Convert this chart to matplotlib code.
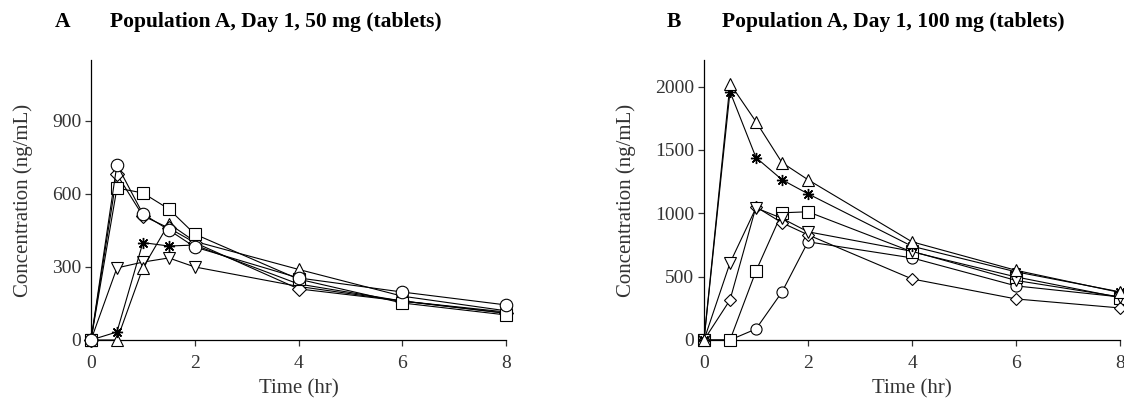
import matplotlib.pyplot as plt
import numpy as np

plt.rcParams['font.family'] = ['Liberation Serif', 'DejaVu Serif']

time = [0, 0.5, 1, 1.5, 2, 4, 6, 8]

# panel A, 50 mg
a_circle = [0, 720, 518, 452, 382, 255, 197, 144]
a_diamond = [0, 680, 510, 460, 400, 210, 160, 110]
a_square = [0, 624, 604, 538, 435, 250, 152, 103]
a_star = [0, 33, 400, 386, 390, 230, 160, 115]
a_tri_up = [0, 0, 296, 478, 405, 290, 180, 120]
a_tri_down = [0, 296, 320, 337, 300, 220, 160, 110]

# panel B, 100 mg
b_tri_up = [0, 2024, 1723, 1400, 1265, 775, 550, 375]
b_star = [0, 1960, 1440, 1265, 1154, 740, 538, 380]
b_tri_down = [0, 608, 1043, 960, 854, 700, 470, 340]
b_diamond = [0, 316, 1051, 925, 830, 482, 324, 253]
b_square = [0, 0, 545, 1004, 1012, 696, 498, 335]
b_circle = [0, 0, 87, 379, 775, 648, 427, 340]

star = (8, 2, 0)

fig = plt.figure(figsize=(11.24, 4), dpi=100)
axA = fig.add_axes([91 / 1124, 60 / 400, 415 / 1124, 280 / 400])
axB = fig.add_axes([704 / 1124, 60 / 400, 416 / 1124, 280 / 400])


def draw(ax, series):
    for y, m, ms in series:
        if m == star:
            ax.plot(time, y, color='black', lw=0.8, marker=m, ms=ms,
                    mec='black', mew=1.0, clip_on=False, zorder=3)
        else:
            ax.plot(time, y, color='black', lw=0.8, marker=m, ms=ms,
                    mfc='white', mec='black', mew=0.8, clip_on=False, zorder=3)


draw(axA, [(a_tri_down, 'v', 9), (a_tri_up, '^', 9), (a_star, star, 8),
           (a_diamond, 'D', 7), (a_square, 's', 9), (a_circle, 'o', 9)])
draw(axB, [(b_circle, 'o', 8), (b_square, 's', 9), (b_diamond, 'D', 6),
           (b_tri_down, 'v', 9), (b_star, star, 8), (b_tri_up, '^', 9)])

for ax, yt, ytop in [(axA, [0, 300, 600, 900], 1150), (axB, [0, 500, 1000, 1500, 2000], 2210)]:
    ax.set_xlim(0, 8)
    ax.set_ylim(0, ytop)
    ax.set_xticks([0, 2, 4, 6, 8])
    ax.set_yticks(yt)
    ax.spines['top'].set_visible(False)
    ax.spines['right'].set_visible(False)
    ax.spines['left'].set_linewidth(0.9)
    ax.spines['bottom'].set_linewidth(0.9)
    ax.tick_params(direction='out', length=4, width=0.9, labelsize=14,
                   colors='#333333', pad=3)
    ax.tick_params(axis='x', pad=7)
    ax.set_xlabel('Time (hr)', fontsize=15, color='#333333', labelpad=5)
    ax.set_ylabel('Concentration (ng/mL)', fontsize=15, color='#333333', labelpad=14)

fig.text(55 / 1124, 1 - 22 / 400, 'A', fontsize=15.5, fontweight='bold', va='center')
fig.text(110 / 1124, 1 - 22 / 400, 'Population A, Day 1, 50 mg (tablets)', fontsize=15.5,
         fontweight='bold', va='center')
fig.text(667 / 1124, 1 - 22 / 400, 'B', fontsize=15.5, fontweight='bold', va='center')
fig.text(722 / 1124, 1 - 22 / 400, 'Population A, Day 1, 100 mg (tablets)', fontsize=15.5,
         fontweight='bold', va='center')

fig.savefig('out.png', dpi=100)
